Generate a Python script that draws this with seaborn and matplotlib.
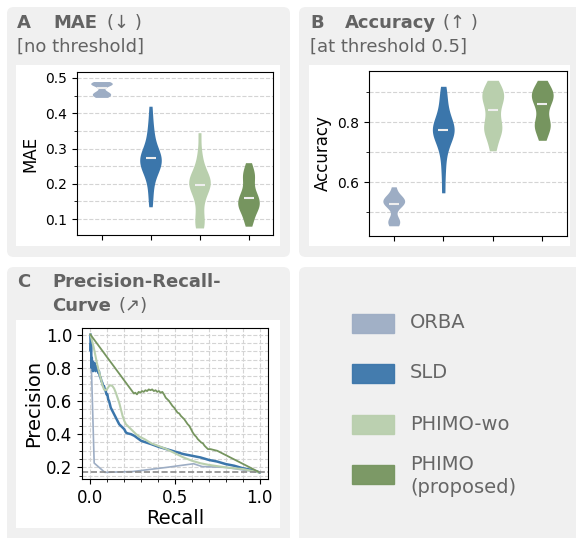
import numpy as np
import pandas as pd
import matplotlib
matplotlib.use("Agg")
import matplotlib.pyplot as plt
import seaborn as sns
from matplotlib.patches import FancyBboxPatch, Rectangle
from matplotlib.ticker import MultipleLocator

# --- data ---------------------------------------------------------------
methods = ["ORBA", "SLD", "PHIMO-wo", "PHIMO"]
legend_labels = ["ORBA", "SLD", "PHIMO-wo", "PHIMO\n(proposed)"]
colors = ["#9dadc4", "#3b76ab", "#b9cfad", "#76955f"]

# MAE per subject (no threshold)
mae_orba = [0.445, 0.449, 0.452, 0.455, 0.458, 0.462, 0.479, 0.481, 0.483, 0.485, 0.487, 0.490]
mae_sld = [0.135, 0.165, 0.19, 0.21, 0.225, 0.235, 0.242, 0.248, 0.253, 0.258, 0.263, 0.272,
           0.276, 0.28, 0.285, 0.29, 0.30, 0.31, 0.325, 0.34, 0.36, 0.385, 0.42]
mae_phimo_wo = [0.075, 0.082, 0.095, 0.115, 0.14, 0.16, 0.175, 0.185, 0.192, 0.197, 0.202,
                0.208, 0.214, 0.22, 0.228, 0.24, 0.26, 0.29, 0.345]
mae_phimo = [0.08, 0.095, 0.11, 0.12, 0.13, 0.135, 0.14, 0.145, 0.15, 0.16, 0.165, 0.17,
             0.18, 0.195, 0.21, 0.22, 0.23, 0.24, 0.26]

# accuracy per subject (threshold 0.5)
acc_orba = [0.455, 0.463, 0.472, 0.482, 0.518, 0.525, 0.528, 0.535, 0.54, 0.545, 0.55, 0.558, 0.585]
acc_sld = [0.565, 0.63, 0.68, 0.715, 0.735, 0.75, 0.76, 0.768, 0.775, 0.782, 0.79, 0.80,
           0.815, 0.835, 0.86, 0.89, 0.92]
acc_phimo_wo = [0.705, 0.74, 0.762, 0.775, 0.785, 0.798, 0.82, 0.84, 0.862, 0.875, 0.885,
                0.895, 0.905, 0.92, 0.94]
acc_phimo = [0.74, 0.77, 0.785, 0.795, 0.81, 0.84, 0.862, 0.875, 0.885, 0.895, 0.905, 0.915, 0.94]

# precision-recall curves
rec_orba = [0.0, 0.022, 0.085, 0.25, 0.45, 0.61, 0.66, 0.8, 1.0]
prec_orba = [1.0, 0.226, 0.17, 0.175, 0.2, 0.222, 0.205, 0.2, 0.17]

rec_sld = [0.0, 0.002, 0.004, 0.006, 0.008, 0.01, 0.012, 0.015, 0.018, 0.021, 0.024, 0.027,
           0.03, 0.034, 0.038, 0.042, 0.046, 0.05, 0.055, 0.06, 0.065, 0.07, 0.075, 0.08,
           0.085, 0.09, 0.095, 0.1, 0.105, 0.11, 0.115, 0.12, 0.125, 0.13, 0.14, 0.15, 0.16,
           0.17, 0.18, 0.19, 0.2, 0.21, 0.22, 0.24, 0.26, 0.28, 0.3, 0.33, 0.36, 0.4, 0.45,
           0.5, 0.55, 0.6, 0.65, 0.7, 0.75, 0.8, 0.85, 0.9, 0.95, 1.0]
prec_sld = [1.0, 0.90, 0.95, 0.80, 0.86, 0.81, 0.84, 0.78, 0.82, 0.79, 0.83, 0.80,
            0.78, 0.81, 0.79, 0.80, 0.77, 0.78, 0.75, 0.74, 0.72, 0.71, 0.69, 0.69,
            0.67, 0.66, 0.64, 0.64, 0.61, 0.60, 0.58, 0.56, 0.55, 0.54, 0.52, 0.50, 0.48,
            0.46, 0.45, 0.44, 0.43, 0.41, 0.405, 0.40, 0.39, 0.375, 0.36, 0.35, 0.34, 0.325, 0.31,
            0.295, 0.28, 0.27, 0.26, 0.245, 0.235, 0.22, 0.21, 0.195, 0.185, 0.17]

rec_phimo_wo = [0.0, 0.01, 0.02, 0.03, 0.04, 0.05, 0.06, 0.07, 0.08, 0.09, 0.1, 0.11, 0.12,
                0.13, 0.14, 0.15, 0.16, 0.17, 0.18, 0.19, 0.2, 0.21, 0.22, 0.23, 0.25, 0.27,
                0.29, 0.32, 0.36, 0.4, 0.45, 0.5, 0.55, 0.6, 0.65, 0.7, 0.8, 0.9, 1.0]
prec_phimo_wo = [1.0, 0.96, 0.92, 0.87, 0.82, 0.78, 0.74, 0.70, 0.67, 0.665, 0.675, 0.69, 0.695,
                 0.69, 0.675, 0.65, 0.62, 0.59, 0.55, 0.51, 0.48, 0.46, 0.45, 0.44, 0.42, 0.40,
                 0.385, 0.37, 0.345, 0.33, 0.31, 0.285, 0.26, 0.24, 0.225, 0.215, 0.20, 0.19, 0.17]

rec_phimo = [0.0, 0.257, 0.265, 0.275, 0.285, 0.295, 0.305, 0.315, 0.325, 0.335, 0.345, 0.355,
             0.365, 0.375, 0.385, 0.395, 0.405, 0.415, 0.425, 0.435, 0.445, 0.455, 0.465, 0.475,
             0.485, 0.495, 0.505, 0.515, 0.525, 0.535, 0.545, 0.555, 0.565, 0.575, 0.585, 0.595,
             0.605, 0.615, 0.625, 0.635, 0.645, 0.655, 0.665, 0.675, 0.685, 0.695, 0.71, 0.73,
             0.75, 1.0]
prec_phimo = [1.0, 0.645, 0.65, 0.64, 0.655, 0.65, 0.66, 0.655, 0.665, 0.66, 0.67, 0.665,
              0.67, 0.66, 0.665, 0.655, 0.66, 0.65, 0.655, 0.64, 0.62, 0.61, 0.60, 0.585,
              0.57, 0.56, 0.545, 0.53, 0.525, 0.51, 0.50, 0.49, 0.475, 0.46, 0.45, 0.43,
              0.41, 0.395, 0.385, 0.37, 0.36, 0.35, 0.345, 0.33, 0.32, 0.31, 0.31, 0.305,
              0.30, 0.17]

baseline = 0.17  # positive rate

mae_df = pd.DataFrame({
    "method": ["ORBA"] * len(mae_orba) + ["SLD"] * len(mae_sld)
              + ["PHIMO-wo"] * len(mae_phimo_wo) + ["PHIMO"] * len(mae_phimo),
    "value": mae_orba + mae_sld + mae_phimo_wo + mae_phimo,
})
acc_df = pd.DataFrame({
    "method": ["ORBA"] * len(acc_orba) + ["SLD"] * len(acc_sld)
              + ["PHIMO-wo"] * len(acc_phimo_wo) + ["PHIMO"] * len(acc_phimo),
    "value": acc_orba + acc_sld + acc_phimo_wo + acc_phimo,
})
pr_curves = [(rec_orba, prec_orba, 1.2), (rec_sld, prec_sld, 1.8),
             (rec_phimo_wo, prec_phimo_wo, 1.5), (rec_phimo, prec_phimo, 1.3)]

# --- layout helpers (pixel coords, origin top left) ---------------------
W, H = 576, 538
fig = plt.figure(figsize=(W / 100, H / 100), dpi=100)
title_c = "#636363"


def frac(x0, y0, x1, y1):
    return [x0 / W, 1 - y1 / H, (x1 - x0) / W, (y1 - y0) / H]


def box(x0, y0, x1, y1, fc, z):
    r = frac(x0, y0, x1, y1)
    p = FancyBboxPatch((r[0], r[1]), r[2], r[3], boxstyle="round,pad=0,rounding_size=0.012",
                       transform=fig.transFigure, fc=fc, ec="none", zorder=z)
    fig.add_artist(p)


def txt(x, y, s, **kw):
    kw.setdefault("color", title_c)
    kw.setdefault("fontsize", 13)
    fig.text(x / W, 1 - y / H, s, va="baseline", ha="left", **kw)


# gray panels + white plot areas
box(7, 7, 290, 257, "#f0f0f0", -3)
box(299, 7, 590, 257, "#f0f0f0", -3)
box(7, 267, 290, 550, "#f0f0f0", -3)
box(299, 267, 590, 550, "#f0f0f0", -3)
fig.add_artist(Rectangle((16 / W, 1 - 246 / H), 264 / W, 181 / H, transform=fig.transFigure,
                         fc="white", ec="none", zorder=-2))
fig.add_artist(Rectangle((309 / W, 1 - 246 / H), 261 / W, 181 / H, transform=fig.transFigure,
                         fc="white", ec="none", zorder=-2))
fig.add_artist(Rectangle((16 / W, 1 - 528 / H), 264 / W, 208 / H, transform=fig.transFigure,
                         fc="white", ec="none", zorder=-2))


def violin_panel(ax, df, ylabel, ylim, major, minor):
    sns.violinplot(data=df, x="method", y="value", hue="method", order=methods,
                   hue_order=methods, palette=colors, saturation=1, cut=0, inner=None,
                   density_norm="width", width=0.44, linewidth=0, bw_adjust=0.65,
                   legend=False, ax=ax)
    sns.pointplot(data=df, x="method", y="value", order=methods, estimator="median",
                  errorbar=None, color="#eeeeee", marker="_", linestyle="none",
                  markersize=7, markeredgewidth=1.5, ax=ax)
    ax.set_ylim(*ylim)
    ax.yaxis.set_major_locator(MultipleLocator(major))
    ax.yaxis.set_minor_locator(MultipleLocator(minor))
    ax.grid(axis="y", which="both", ls="--", color="#d4d4d4", lw=0.8)
    ax.set_axisbelow(True)
    ax.set_xticks(range(len(methods)))
    ax.set_xticklabels([])
    ax.set_xlabel("")
    ax.set_ylabel(ylabel, fontsize=12)
    ax.tick_params(axis="y", labelsize=10)
    ax.tick_params(axis="y", which="minor", length=2)


# A: MAE
axA = fig.add_axes(frac(77, 72, 273, 235))
violin_panel(axA, mae_df, "MAE", (0.055, 0.517), 0.1, 0.05)
txt(17, 28, "A", weight="bold")
txt(53, 28, "MAE", weight="bold")
txt(107, 28, "(↓ )")
txt(17, 52, "[no threshold]")

# B: accuracy
axB = fig.add_axes(frac(369, 71, 567, 236))
violin_panel(axB, acc_df, "Accuracy", (0.421, 0.971), 0.2, 0.1)
txt(310, 28, "B", weight="bold")
txt(345, 28, "Accuracy", weight="bold")
txt(443, 28, "(↑ )")
txt(310, 52, "[at threshold 0.5]")

# C: precision-recall curve
axC = fig.add_axes(frac(82, 328, 268, 479))
for (rec, prec, lw), c in zip(pr_curves, colors):
    sns.lineplot(x=rec, y=prec, sort=False, estimator=None, color=c, lw=lw, ax=axC)
axC.axhline(baseline, ls="--", color="#8a8a8a", lw=1.2)
axC.set_xlim(-0.05, 1.05)
axC.set_ylim(0.13, 1.04)
axC.xaxis.set_major_locator(MultipleLocator(0.5))
axC.xaxis.set_minor_locator(MultipleLocator(0.1))
axC.yaxis.set_major_locator(MultipleLocator(0.2))
axC.yaxis.set_minor_locator(MultipleLocator(0.05))
axC.grid(which="both", ls="--", color="#d4d4d4", lw=0.8)
axC.set_axisbelow(True)
axC.set_xlabel("Recall", fontsize=14, labelpad=2)
axC.set_ylabel("Precision", fontsize=14, labelpad=2)
axC.tick_params(labelsize=12)
axC.tick_params(which="minor", length=2)
txt(17, 287, "C", weight="bold")
txt(52, 287, "Precision-Recall-", weight="bold")
txt(52, 311, "Curve", weight="bold")
txt(118, 311, "(↗)")

# D: legend
centers = [323, 373, 424, 474]
for lab, c, yc in zip(legend_labels, colors, centers):
    fig.add_artist(Rectangle((352 / W, 1 - (yc + 9.5) / H), 42 / W, 19 / H,
                             transform=fig.transFigure, fc=c, ec=c, lw=1, alpha=0.95))
    ty = yc + 2 if "\n" in lab else yc
    fig.text(410 / W, 1 - ty / H, lab, va="center", ha="left", fontsize=14,
             color="#666666", linespacing=1.3)

fig.savefig("out.png", dpi=100)
